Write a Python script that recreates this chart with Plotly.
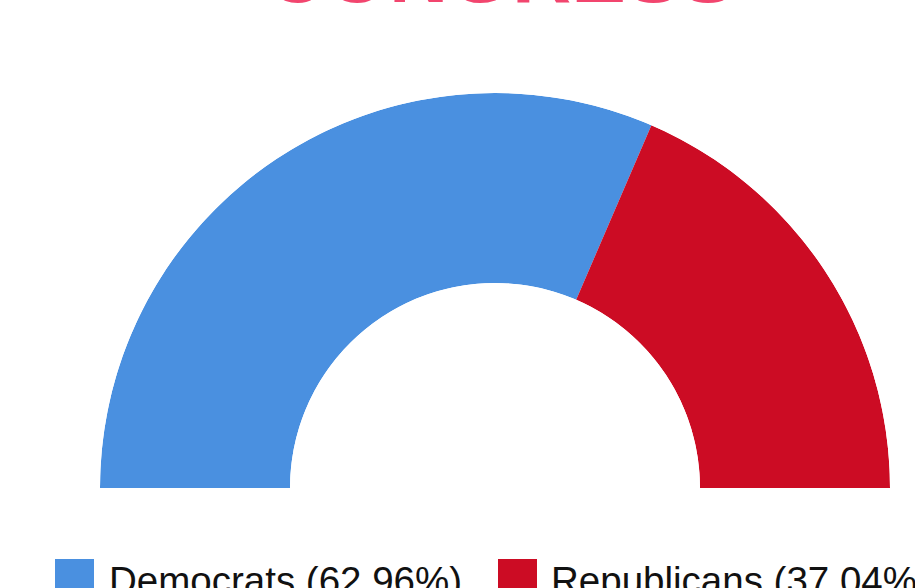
import plotly.graph_objects as go

# ---- data ----
parties = ["Democrats", "Republicans"]
shares = [62.96, 37.04]          # percent of seats
colors = ["#4A90E0", "#CC0C24"]
title_text = "CONGRESS"
legend_labels = [f"{p} ({s:.2f}%)" for p, s in zip(parties, shares)]

# ---- geometry from data (half circle = 180 degrees) ----
total = sum(shares)
widths = [s / total * 180 for s in shares]
centers = []
acc = 0
for w in widths:
    centers.append(acc + w / 2)
    acc += w

W, H = 915, 588
fig = go.Figure()
fig.add_trace(go.Barpolar(
    r=[1] * len(parties),
    theta=centers,
    width=widths,
    marker=dict(color=colors, line=dict(width=0)),
    name="",
    text=legend_labels,
    hoverinfo="text",
    showlegend=False,
))

fig.update_layout(
    width=W, height=H,
    margin=dict(l=0, r=0, t=0, b=0),
    paper_bgcolor="white",
    plot_bgcolor="white",
    showlegend=False,
    polar=dict(
        domain=dict(x=[100 / W, 890 / W], y=[1 - 488 / H, 1 - 93 / H]),
        sector=[0, 180],
        hole=0.519,
        bgcolor="white",
        radialaxis=dict(visible=False, range=[0, 1]),
        angularaxis=dict(visible=False, direction="clockwise", rotation=180,
                         thetaunit="degrees"),
    ),
)

# title (partially off the top edge as in the reference)
fig.add_annotation(
    text=f"<b>{title_text}</b>", x=500 / W, y=1, xref="paper", yref="paper",
    xanchor="center", yanchor="bottom", yshift=-21, showarrow=False,
    font=dict(family="Liberation Sans, Arial, sans-serif", size=82, color="#F2456E"),
)

# custom legend
sw_x = [55, 498]
txt_x = [107, 549]
for i, lab in enumerate(legend_labels):
    fig.add_shape(type="rect", xref="paper", yref="paper",
                  x0=sw_x[i] / W, x1=(sw_x[i] + 39) / W,
                  y0=1 - 598 / H, y1=1 - 559 / H,
                  fillcolor=colors[i], line=dict(width=0), layer="above")
    fig.add_annotation(
        text=lab, x=txt_x[i] / W, y=1 - 557 / H, xref="paper", yref="paper",
        xanchor="left", yanchor="top", showarrow=False,
        font=dict(family="Liberation Sans, Arial, sans-serif", size=38.5, color="#111111"),
    )

fig.write_html("out.html")
